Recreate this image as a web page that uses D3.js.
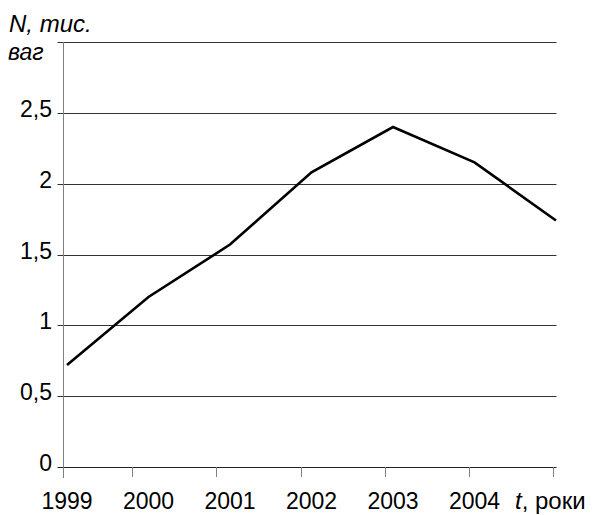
<!DOCTYPE html>
<html><head><meta charset="utf-8">
<script src="https://cdn.jsdelivr.net/npm/d3@7"></script>
<style>body{margin:0;background:#fff}text{font-family:"Liberation Sans",Arial,sans-serif}</style>
</head><body><svg id="c" width="596" height="515"></svg>
<script>
const categories = ["1999","2000","2001","2002","2003","2004","2005"];
const tickLabels = ["1999","2000","2001","2002","2003","2004"];
const values = [0.72, 1.20, 1.57, 2.08, 2.40, 2.15, 1.74];
const yTicks = [0, 0.5, 1, 1.5, 2, 2.5];
const yGrid = [0.5, 1, 1.5, 2, 2.5, 3];

const svg = d3.select("#c");
const x = d3.scalePoint().domain(categories).range([67, 556]);
const xt = d3.scalePoint().domain(categories).range([48, 553]);
const y = d3.scaleLinear().domain([0, 3]).range([467, 42]);
const axisX = 63.5;

// gridlines
svg.append("g").selectAll("line").data(yGrid).join("line")
  .attr("x1", axisX-6).attr("x2", 556.5)
  .attr("y1", d => Math.round(y(d))+0.5).attr("y2", d => Math.round(y(d))+0.5)
  .attr("stroke", "#333").attr("stroke-width", 1);
// x axis line
svg.append("line").attr("x1", axisX-6).attr("x2", 556.5)
  .attr("y1", Math.round(y(0))+0.5).attr("y2", Math.round(y(0))+0.5)
  .attr("stroke", "#222");
// y axis line
svg.append("line").attr("x1", axisX).attr("x2", axisX)
  .attr("y1", y(3)).attr("y2", y(0)+11).attr("stroke", "#808080");
// x ticks
svg.append("g").selectAll("line").data(categories.slice(1)).join("line")
  .attr("x1", d => Math.round(xt(d))+0.5).attr("x2", d => Math.round(xt(d))+0.5)
  .attr("y1", y(0)).attr("y2", y(0)+10).attr("stroke", "#808080");

// y labels
svg.append("g").selectAll("text").data(yTicks).join("text")
  .attr("x", 52).attr("y", d => y(d)+4).attr("text-anchor", "end")
  .attr("font-size", 23).text(d => String(d).replace(".", ","));
// x labels
svg.append("g").selectAll("text").data(tickLabels).join("text")
  .attr("x", d => x(d)).attr("y", 508.5).attr("text-anchor", "middle")
  .attr("font-size", 23).text(d => d);
// axis titles
svg.append("text").attr("x", 9).attr("y", 31.5).attr("font-size", 24)
  .attr("font-style", "italic").text("N, тис.");
svg.append("text").attr("x", 8).attr("y", 60).attr("font-size", 23)
  .attr("font-style", "italic").text("ваг");
const tt = svg.append("text").attr("x", 515).attr("y", 508.5).attr("font-size", 24);
tt.append("tspan").attr("font-style", "italic").text("t");
tt.append("tspan").text(", роки");

// line
svg.append("path").datum(values)
  .attr("d", d3.line().x((d,i) => x(categories[i])).y(d => y(d)))
  .attr("fill", "none").attr("stroke", "#000").attr("stroke-width", 2.6)
  .attr("stroke-linejoin", "miter");
</script></body></html>
